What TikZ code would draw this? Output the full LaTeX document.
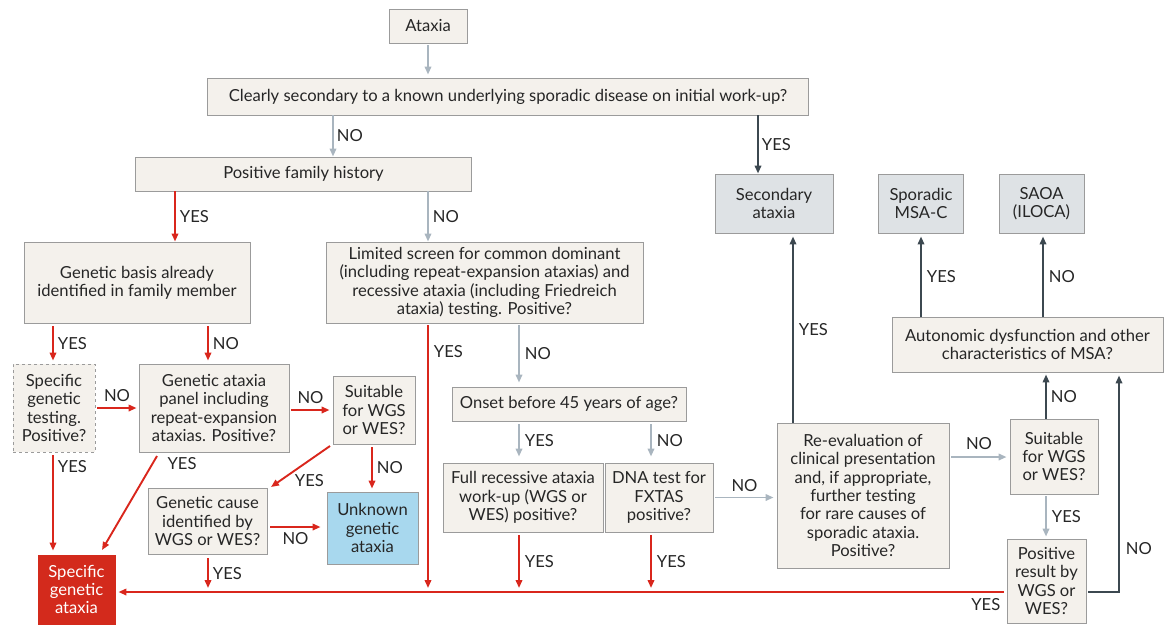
\documentclass[tikz,border=0pt]{standalone}
\usepackage{fontspec}
\setmainfont{Lato}
\usetikzlibrary{arrows.meta,positioning}
\definecolor{boxfill}{HTML}{F4F1EC}
\definecolor{boxline}{HTML}{9B9B9B}
\definecolor{greyfill}{HTML}{DEE2E5}
\definecolor{bluefill}{HTML}{A8D8EE}
\definecolor{redfill}{HTML}{D32A1C}
\definecolor{redline}{HTML}{D9261C}
\definecolor{grayarrow}{HTML}{A9B5BF}
\definecolor{darkarrow}{HTML}{3C4850}
\newcommand{\fs}{\fontsize{16.6}{18.3}\selectfont}
\tikzset{
  box/.style={draw=boxline, fill=boxfill, line width=0.9pt, inner sep=1pt, align=center, font=\fs, text=black!85},
  gbox/.style={box, fill=greyfill},
  ubox/.style={box, fill=bluefill},
  rbox/.style={box, fill=redfill, draw=redfill, text=white},
  dbox/.style={box, dashed},
  tip/.style={-{Triangle[length=8pt,width=6.5pt]}},
  ra/.style={draw=redline, line width=1.9pt, tip},
  ga/.style={draw=grayarrow, line width=1.9pt, tip},
  da/.style={draw=darkarrow, line width=1.9pt, tip},
  lab/.style={font=\fs, inner sep=0pt, text=black!85},
}
\begin{document}
\begin{tikzpicture}[x=1pt,y=-1pt]
\useasboundingbox (0,0) rectangle (1164,625);
% boxes
\node[box, minimum width=78pt, minimum height=34pt] (ataxia) at (428,26) {Ataxia};
\node[box, minimum width=601pt, minimum height=37pt] (clear) at (508,96.5) {Clearly secondary to a known underlying sporadic disease on initial work-up?};
\node[box, minimum width=336pt, minimum height=34pt] (pfh) at (303.5,174) {Positive family history};
\node[box, minimum width=226pt, minimum height=81pt] (gbasis) at (137,282.5) {Genetic basis already\\identified in family member};
\node[box, minimum width=317pt, minimum height=81pt] (lim) at (484.5,282.5) {Limited screen for common dominant\\(including repeat-expansion ataxias) and\\recessive ataxia (including Friedreich\\ataxia) testing. Positive?};
\node[gbox, minimum width=118pt, minimum height=59pt] (sec) at (774,203.5) {Secondary\\ataxia};
\node[gbox, minimum width=85pt, minimum height=59pt] (msa) at (921,203.5) {Sporadic\\MSA-C};
\node[gbox, minimum width=85pt, minimum height=59pt] (saoa) at (1041.5,203.5) {SAOA\\(ILOCA)};
\node[box, minimum width=271pt, minimum height=55pt] (auto) at (1027.5,344.5) {Autonomic dysfunction and other\\characteristics of MSA?};
\node[dbox, minimum width=82pt, minimum height=88pt] (spec) at (54,408) {Specific\\genetic\\testing.\\Positive?};
\node[box, minimum width=150pt, minimum height=88pt] (panel) at (214,408) {Genetic ataxia\\panel including\\repeat-expansion\\ataxias. Positive?};
\node[box, minimum width=82pt, minimum height=68pt] (suitL) at (374,410) {Suitable\\for WGS\\or WES?};
\node[box, minimum width=119pt, minimum height=66pt] (gcause) at (207.5,521) {Genetic cause\\identified by\\WGS or WES?};
\node[ubox, minimum width=91pt, minimum height=72pt] (unknown) at (372.5,528) {Unknown\\genetic\\ataxia};
\node[box, minimum width=234pt, minimum height=34pt] (onset) at (569,404) {Onset before 45 years of age?};
\node[box, minimum width=160pt, minimum height=69pt] (full) at (523,497.5) {Full recessive ataxia\\work-up (WGS or\\WES) positive?};
\node[box, minimum width=108pt, minimum height=69pt] (dna) at (659,497.5) {DNA test for\\FXTAS\\positive?};
\node[box, minimum width=172pt, minimum height=145pt] (reeval) at (863,495.5) {Re-evaluation of\\clinical presentation\\and, if appropriate,\\further testing\\for rare causes of\\sporadic ataxia.\\Positive?};
\node[box, minimum width=88pt, minimum height=75pt] (suitR) at (1054,456.5) {Suitable\\for WGS\\or WES?};
\node[box, minimum width=79pt, minimum height=84pt] (posres) at (1046.5,581) {Positive\\result by\\WGS or\\WES?};
\node[rbox, minimum width=77pt, minimum height=69pt] (sga) at (76.5,589.5) {Specific\\genetic\\ataxia};
% helper coordinates
\coordinate (bl) at (posres.west |- 0,592);
\coordinate (pr) at (posres.east |- 0,592);
\coordinate (pc) at (1119,592);
% top arrows
\draw[ga] ([yshift=-2pt]ataxia.south) -- ([yshift=3pt]clear.north -| ataxia);
\draw[ga] (clear.south -| 333,0) -- (pfh.north -| 333,0) node[lab, midway, right=3pt] {NO};
\draw[da] (clear.south -| 758,0) -- (sec.north -| 758,0) node[lab, midway, right=3pt] {YES};
\draw[ra] (pfh.south -| 175,0) -- (gbasis.north -| 175,0) node[lab, midway, right=4pt] {YES};
\draw[ga] (pfh.south -| 428,0) -- (lim.north -| 428,0) node[lab, midway, right=4pt] {NO};
% left branch
\draw[ra] ([yshift=-3pt]gbasis.south -| 53,0) -- ([yshift=3pt]spec.north -| 53,0) node[lab, midway, right=4pt] {YES};
\draw[ra] ([yshift=-3pt]gbasis.south -| 208,0) -- ([yshift=3pt]panel.north -| 208,0) node[lab, midway, right=4pt] {NO};
\draw[ra] ([xshift=2pt]spec.east) -- ([xshift=-2pt]panel.west) node[lab, midway, above=5pt] {NO};
\draw[ra] ([xshift=2pt]panel.east |- suitL.west) -- ([xshift=-3pt]suitL.west) node[lab, midway, above=5pt] {NO};
\draw[ra] ([yshift=-3pt]spec.south -| 53,0) -- ([yshift=4pt]sga.north -| 53,0) node[lab, pos=0.12, right=4pt] {YES};
\draw[ra] (157,456) -- (102,550) node[lab, pos=0.08, right=14pt] {YES};
\draw[ra] (330,446) -- (271,487) node[lab, pos=0.5, anchor=north west, xshift=-6.5pt, yshift=-7.5pt] {YES};
\draw[ra] ([yshift=-3pt]suitL.south -| 372,0) -- ([yshift=3pt]unknown.north -| 372,0) node[lab, midway, right=4pt] {NO};
\draw[ra] ([xshift=3pt]gcause.east |- 0,527) -- ([xshift=-6pt]unknown.west |- 0,527) node[lab, midway, below=5pt] {NO};
\draw[ra] ([yshift=-4pt]gcause.south -| 208,0) -- (208,588) node[lab, midway, right=4pt] {YES};
% bottom red line
\draw[ra] ([xshift=-3pt]bl) -- ([xshift=3pt]sga.east |- bl) node[lab, pos=0.02, below=6pt] {YES};
% middle column
\draw[ra] ([yshift=-2pt]lim.south -| 428,0) -- (428,588) node[lab, pos=0.1, right=5pt] {YES};
\draw[ga] ([yshift=-2pt]lim.south -| 519,0) -- ([yshift=4pt]onset.north -| 519,0) node[lab, midway, right=5pt] {NO};
\draw[ga] ([yshift=-3pt]onset.south -| 519,0) -- ([yshift=6pt]full.north -| 519,0) node[lab, midway, right=5pt] {YES};
\draw[ga] ([yshift=-3pt]onset.south -| 651,0) -- ([yshift=6pt]dna.north -| 651,0) node[lab, midway, right=5pt] {NO};
\draw[ra] ([yshift=-3pt]full.south -| 519,0) -- (519,588) node[lab, midway, right=5pt] {YES};
\draw[ra] ([yshift=-3pt]dna.south -| 651,0) -- (651,588) node[lab, midway, right=5pt] {YES};
\draw[ga] ([xshift=2pt]dna.east) -- ([xshift=-3pt]reeval.west |- dna.east) node[lab, midway, above=5pt] {NO};
% right part
\draw[da] (reeval.north -| 793,0) -- ([yshift=-3pt]sec.south -| 793,0) node[lab, midway, right=5pt] {YES};
\draw[ga] ([xshift=2pt]reeval.east |- 0,457) -- ([xshift=-3pt]suitR.west |- 0,457) node[lab, midway, above=6pt] {NO};
\draw[da] (suitR.north -| 1046,0) -- ([yshift=-2pt]auto.south -| 1046,0) node[lab, midway, right=4pt] {NO};
\draw[ga] ([yshift=-2pt]suitR.south -| 1046,0) -- ([yshift=2pt]posres.north -| 1046,0) node[lab, midway, right=5pt] {YES};
\draw[da] ([xshift=2pt]pr) -| ([yshift=-3pt]auto.south -| pc) node[lab, pos=0.6, right=6pt] {NO};
\draw[da] (auto.north -| 921,0) -- ([yshift=-3pt]msa.south -| 921,0) node[lab, midway, right=5pt] {YES};
\draw[da] (auto.north -| 1043,0) -- ([yshift=-3pt]saoa.south -| 1043,0) node[lab, midway, right=5pt] {NO};
\end{tikzpicture}
\end{document}
